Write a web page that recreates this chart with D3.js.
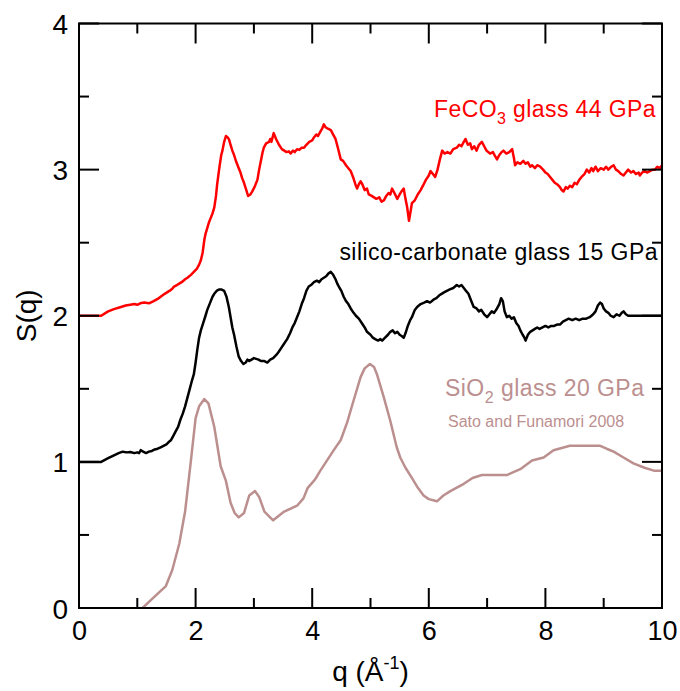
<!DOCTYPE html>
<html><head><meta charset="utf-8">
<script src="https://cdn.jsdelivr.net/npm/d3@7/dist/d3.min.js"></script>
<style>body{margin:0;background:#fff}svg{display:block}text{font-family:"Liberation Sans",Arial,sans-serif}</style>
</head><body><svg id="c" width="680" height="691"></svg>
<script>
const xTicks = [0, 2, 4, 6, 8, 10];
const yTicks = [0, 1, 2, 3, 4];
const xLabel = "q (Å";
const yLabel = "S(q)";

const feco3 = [[0,2.0],[0.38,2.0],[0.5,2.03],[0.6,2.045],[0.72,2.06],[0.8,2.07],[0.88,2.075],[0.95,2.08],[1.0,2.075],[1.05,2.085],[1.12,2.09],[1.2,2.085],[1.28,2.1],[1.35,2.115],[1.4,2.13],[1.47,2.15],[1.55,2.17],[1.6,2.185],[1.63,2.2],[1.68,2.21],[1.72,2.22],[1.78,2.235],[1.82,2.25],[1.86,2.26],[1.92,2.28],[1.97,2.3],[2.02,2.32],[2.06,2.35],[2.09,2.38],[2.12,2.43],[2.15,2.52],[2.17,2.56],[2.2,2.6],[2.23,2.64],[2.26,2.67],[2.29,2.7],[2.32,2.74],[2.35,2.82],[2.37,2.9],[2.41,3.02],[2.44,3.10],[2.46,3.13],[2.49,3.19],[2.52,3.23],[2.55,3.22],[2.57,3.21],[2.6,3.17],[2.63,3.13],[2.66,3.10],[2.7,3.05],[2.74,3.01],[2.77,2.98],[2.8,2.94],[2.83,2.91],[2.87,2.86],[2.9,2.82],[2.94,2.83],[2.97,2.85],[3.01,2.88],[3.06,2.93],[3.09,3.0],[3.12,3.06],[3.15,3.12],[3.17,3.15],[3.21,3.18],[3.26,3.19],[3.28,3.21],[3.3,3.19],[3.34,3.25],[3.38,3.21],[3.43,3.17],[3.48,3.14],[3.52,3.13],[3.56,3.12],[3.6,3.125],[3.63,3.11],[3.67,3.13],[3.7,3.12],[3.74,3.14],[3.78,3.135],[3.82,3.15],[3.86,3.15],[3.9,3.17],[3.95,3.19],[4.0,3.2],[4.03,3.22],[4.07,3.24],[4.1,3.23],[4.14,3.26],[4.17,3.28],[4.2,3.31],[4.23,3.29],[4.27,3.28],[4.32,3.27],[4.36,3.24],[4.4,3.21],[4.44,3.15],[4.49,3.07],[4.53,3.06],[4.58,3.03],[4.62,3.01],[4.66,2.99],[4.7,2.95],[4.74,2.9],[4.77,2.87],[4.8,2.90],[4.83,2.92],[4.86,2.9],[4.9,2.86],[4.94,2.87],[4.97,2.83],[5.02,2.82],[5.06,2.81],[5.1,2.8],[5.15,2.81],[5.19,2.78],[5.23,2.79],[5.27,2.82],[5.31,2.84],[5.34,2.83],[5.37,2.87],[5.41,2.84],[5.46,2.80],[5.5,2.83],[5.53,2.85],[5.57,2.87],[5.6,2.80],[5.63,2.74],[5.66,2.65],[5.69,2.72],[5.71,2.77],[5.76,2.79],[5.81,2.83],[5.86,2.86],[5.9,2.89],[5.95,2.93],[6.0,2.96],[6.03,2.99],[6.07,2.97],[6.11,2.95],[6.15,3.0],[6.19,3.07],[6.23,3.13],[6.27,3.11],[6.32,3.12],[6.37,3.11],[6.42,3.14],[6.48,3.15],[6.52,3.17],[6.56,3.16],[6.6,3.19],[6.63,3.21],[6.67,3.17],[6.71,3.18],[6.74,3.14],[6.78,3.16],[6.82,3.13],[6.86,3.17],[6.91,3.19],[6.95,3.16],[6.99,3.13],[7.05,3.11],[7.1,3.12],[7.14,3.09],[7.17,3.07],[7.21,3.1],[7.25,3.12],[7.28,3.13],[7.33,3.11],[7.38,3.12],[7.43,3.14],[7.46,3.08],[7.48,3.03],[7.52,3.05],[7.57,3.04],[7.62,3.06],[7.66,3.04],[7.7,3.05],[7.74,3.02],[7.77,3.03],[7.82,3.01],[7.86,3.03],[7.91,3.02],[7.96,3.0],[8.0,2.98],[8.04,2.97],[8.08,2.95],[8.12,2.93],[8.16,2.91],[8.2,2.9],[8.25,2.88],[8.28,2.86],[8.31,2.85],[8.35,2.88],[8.38,2.87],[8.42,2.89],[8.46,2.88],[8.5,2.91],[8.54,2.90],[8.58,2.93],[8.62,2.95],[8.67,2.97],[8.71,3.0],[8.75,2.98],[8.79,3.01],[8.82,2.99],[8.86,3.02],[8.9,2.99],[8.95,3.01],[9.0,3.0],[9.04,3.02],[9.08,3.0],[9.13,3.02],[9.17,3.03],[9.21,3.0],[9.25,2.99],[9.3,2.97],[9.34,2.96],[9.38,2.98],[9.42,3.0],[9.47,2.98],[9.51,2.99],[9.55,2.97],[9.6,2.98],[9.62,2.96],[9.66,2.98],[9.7,2.99],[9.75,2.98],[9.79,2.99],[9.84,3.0],[9.88,3.0],[9.92,3.02],[9.96,3.01],[10.0,3.03]];

const silicoCarb = [[0,1.0],[0.38,1.0],[0.5,1.025],[0.6,1.045],[0.68,1.06],[0.75,1.07],[0.82,1.065],[0.88,1.068],[0.95,1.06],[1.0,1.065],[1.03,1.06],[1.06,1.08],[1.1,1.07],[1.15,1.06],[1.2,1.07],[1.25,1.075],[1.3,1.085],[1.35,1.09],[1.4,1.10],[1.45,1.11],[1.5,1.12],[1.55,1.14],[1.58,1.15],[1.62,1.18],[1.66,1.21],[1.7,1.24],[1.74,1.29],[1.78,1.33],[1.82,1.38],[1.86,1.44],[1.9,1.5],[1.94,1.56],[1.97,1.6],[2.0,1.68],[2.03,1.77],[2.06,1.85],[2.09,1.9],[2.13,1.95],[2.17,2.0],[2.2,2.04],[2.25,2.09],[2.29,2.13],[2.32,2.15],[2.36,2.17],[2.40,2.18],[2.44,2.18],[2.49,2.17],[2.53,2.13],[2.57,2.06],[2.6,1.99],[2.63,1.92],[2.66,1.87],[2.7,1.79],[2.74,1.72],[2.78,1.69],[2.82,1.67],[2.86,1.68],[2.89,1.70],[2.92,1.69],[2.96,1.70],[3.0,1.71],[3.04,1.705],[3.08,1.70],[3.12,1.69],[3.18,1.69],[3.23,1.68],[3.28,1.70],[3.33,1.71],[3.38,1.73],[3.42,1.75],[3.47,1.78],[3.52,1.81],[3.57,1.84],[3.62,1.88],[3.66,1.92],[3.7,1.95],[3.74,1.99],[3.78,2.03],[3.82,2.08],[3.86,2.12],[3.9,2.17],[3.94,2.2],[3.98,2.21],[4.03,2.23],[4.08,2.24],[4.12,2.23],[4.16,2.25],[4.2,2.26],[4.24,2.27],[4.28,2.29],[4.32,2.30],[4.36,2.28],[4.4,2.25],[4.43,2.22],[4.47,2.19],[4.5,2.17],[4.54,2.13],[4.58,2.10],[4.62,2.08],[4.66,2.05],[4.71,2.02],[4.75,2.0],[4.8,1.98],[4.85,1.95],[4.9,1.92],[4.94,1.89],[5.0,1.87],[5.04,1.85],[5.08,1.84],[5.13,1.83],[5.17,1.84],[5.2,1.83],[5.25,1.85],[5.3,1.87],[5.34,1.89],[5.38,1.9],[5.42,1.88],[5.46,1.89],[5.5,1.87],[5.54,1.86],[5.57,1.85],[5.6,1.88],[5.64,1.93],[5.68,1.97],[5.71,1.99],[5.76,2.04],[5.8,2.06],[5.86,2.08],[5.92,2.09],[5.97,2.1],[6.02,2.09],[6.08,2.11],[6.13,2.12],[6.18,2.14],[6.22,2.15],[6.26,2.16],[6.31,2.17],[6.36,2.18],[6.42,2.19],[6.48,2.21],[6.52,2.2],[6.56,2.21],[6.6,2.19],[6.64,2.17],[6.68,2.15],[6.72,2.11],[6.77,2.06],[6.82,2.05],[6.86,2.03],[6.9,2.04],[6.95,2.01],[7.0,1.99],[7.04,2.01],[7.08,2.03],[7.12,2.02],[7.17,2.05],[7.21,2.08],[7.24,2.12],[7.27,2.10],[7.3,2.03],[7.34,1.99],[7.38,2.0],[7.42,1.98],[7.46,1.99],[7.5,1.95],[7.54,1.93],[7.57,1.9],[7.61,1.87],[7.64,1.85],[7.66,1.83],[7.7,1.87],[7.74,1.89],[7.78,1.9],[7.82,1.91],[7.86,1.92],[7.9,1.91],[7.95,1.92],[8.0,1.93],[8.05,1.92],[8.1,1.93],[8.15,1.93],[8.2,1.94],[8.25,1.94],[8.3,1.96],[8.35,1.97],[8.4,1.98],[8.46,1.97],[8.52,1.98],[8.58,1.97],[8.64,1.98],[8.7,1.98],[8.76,1.99],[8.82,2.01],[8.86,2.03],[8.9,2.07],[8.94,2.09],[8.97,2.08],[9.0,2.05],[9.04,2.03],[9.08,2.02],[9.12,2.0],[9.17,1.99],[9.22,2.01],[9.27,2.0],[9.31,2.02],[9.34,2.03],[9.38,2.01],[9.42,2.0],[10.0,2.0]];

const sio2 = [[1.09,0.0],[1.3,0.08],[1.49,0.15],[1.60,0.26],[1.72,0.44],[1.82,0.66],[1.92,1.01],[2.0,1.30],[2.06,1.38],[2.15,1.43],[2.22,1.40],[2.32,1.24],[2.43,0.97],[2.52,0.87],[2.60,0.72],[2.67,0.65],[2.74,0.62],[2.83,0.65],[2.92,0.77],[3.02,0.80],[3.09,0.76],[3.18,0.66],[3.33,0.60],[3.52,0.66],[3.74,0.70],[3.85,0.75],[3.92,0.82],[4.05,0.88],[4.14,0.94],[4.37,1.08],[4.49,1.15],[4.60,1.27],[4.71,1.42],[4.83,1.58],[4.90,1.64],[4.99,1.67],[5.06,1.65],[5.11,1.60],[5.23,1.44],[5.34,1.28],[5.45,1.10],[5.51,1.03],[5.6,0.96],[5.71,0.89],[5.8,0.83],[5.91,0.77],[6.0,0.745],[6.14,0.73],[6.25,0.77],[6.37,0.80],[6.6,0.85],[6.75,0.89],[6.91,0.91],[7.34,0.91],[7.45,0.93],[7.57,0.95],[7.77,1.01],[7.97,1.03],[8.14,1.08],[8.42,1.11],[8.94,1.11],[9.05,1.09],[9.17,1.07],[9.34,1.03],[9.51,0.99],[9.7,0.96],[9.86,0.94],[10.0,0.94]];

const seriesColors = {feco3: "#ff0000", silicoCarb: "#000000", sio2: "#bc8f8f"};

const L = 79, R = 662, T = 23.5, B = 608;
const svg = d3.select("#c");
const x = d3.scaleLinear().domain([0, 10]).range([L, R]);
const y = d3.scaleLinear().domain([0, 4]).range([B, T]);

svg.append("clipPath").attr("id", "clip").append("rect")
  .attr("x", L).attr("y", T).attr("width", R - L).attr("height", B - T);

const line = d3.line().x(d => x(d[0])).y(d => y(d[1]));
const dataMap = {feco3, silicoCarb, sio2};
const g = svg.append("g").attr("clip-path", "url(#clip)");
["sio2", "silicoCarb", "feco3"].forEach(k => {
  g.append("path").datum(dataMap[k]).attr("d", line)
    .attr("fill", "none").attr("stroke", seriesColors[k])
    .attr("stroke-width", 2.5).attr("stroke-linejoin", "round");
});

const minorX = d3.range(0, 10.01, 1), minorY = d3.range(0, 4.01, 0.5);
const axG = svg.append("g");
function drawTicksX(yy, dir) {
  minorX.forEach(v => {
    const len = (v % 2 === 0) ? 20 : 10;
    axG.append("line").attr("x1", x(v)).attr("x2", x(v)).attr("y1", yy).attr("y2", yy + dir * len)
      .attr("stroke", "#000").attr("stroke-width", 2);
  });
}
function drawTicksY(xx, dir) {
  minorY.forEach(v => {
    const len = (Math.abs(v - Math.round(v)) < 1e-6) ? 20 : 10;
    axG.append("line").attr("y1", y(v)).attr("y2", y(v)).attr("x1", xx).attr("x2", xx + dir * len)
      .attr("stroke", "#000").attr("stroke-width", 2);
  });
}
drawTicksX(B, -1); drawTicksX(T, 1);
drawTicksY(L, 1); drawTicksY(R, -1);
axG.append("rect").attr("x", L).attr("y", T).attr("width", R - L).attr("height", B - T)
  .attr("fill", "none").attr("stroke", "#000").attr("stroke-width", 2);

const xa = svg.append("g").attr("transform", `translate(0,${B})`)
  .call(d3.axisBottom(x).tickValues(xTicks).tickFormat(d3.format("d")).tickSize(0).tickPadding(13));
xa.select(".domain").remove();
xa.selectAll("text").attr("font-size", 27).attr("fill", "#000").style("font-family", "Liberation Sans, Arial, sans-serif");
const ya = svg.append("g").attr("transform", `translate(${L},0)`)
  .call(d3.axisLeft(y).tickValues(yTicks).tickFormat(d3.format("d")).tickSize(0).tickPadding(11));
ya.select(".domain").remove();
ya.selectAll("text").attr("font-size", 28).attr("fill", "#000").attr("dy", "0.36em").style("font-family", "Liberation Sans, Arial, sans-serif");

// axis titles
const xt = svg.append("text").attr("x", (L + R) / 2).attr("y", 681).attr("text-anchor", "middle").attr("font-size", 28);
xt.append("tspan").text(xLabel);
xt.append("tspan").attr("dy", -12).attr("font-size", 18).text("-1");
xt.append("tspan").attr("dy", 12).text(")");
svg.append("text").attr("transform", `translate(36,${(T + B) / 2}) rotate(-90)`)
  .attr("text-anchor", "middle").attr("font-size", 28).text(yLabel);

// series labels
const t1 = svg.append("text").attr("x", 656).attr("y", 117).attr("text-anchor", "end").attr("font-size", 23).attr("letter-spacing", 0.4).attr("fill", "#ff0000");
t1.append("tspan").text("FeCO");
t1.append("tspan").attr("dy", 7).attr("font-size", 16).text("3");
t1.append("tspan").attr("dy", -7).text(" glass 44 GPa");

svg.append("text").attr("x", 658).attr("y", 260).attr("text-anchor", "end").attr("font-size", 23).attr("letter-spacing", 0.45).attr("fill", "#000").text("silico-carbonate glass 15 GPa");

const t3 = svg.append("text").attr("x", 445).attr("y", 396).attr("font-size", 23).attr("letter-spacing", 0.45).attr("fill", "#bc8f8f");
t3.append("tspan").text("SiO");
t3.append("tspan").attr("dy", 7).attr("font-size", 16).text("2");
t3.append("tspan").attr("dy", -7).text(" glass 20 GPa");
svg.append("text").attr("x", 448).attr("y", 427).attr("font-size", 16).attr("fill", "#bc8f8f").text("Sato and Funamori 2008");
</script></body></html>
